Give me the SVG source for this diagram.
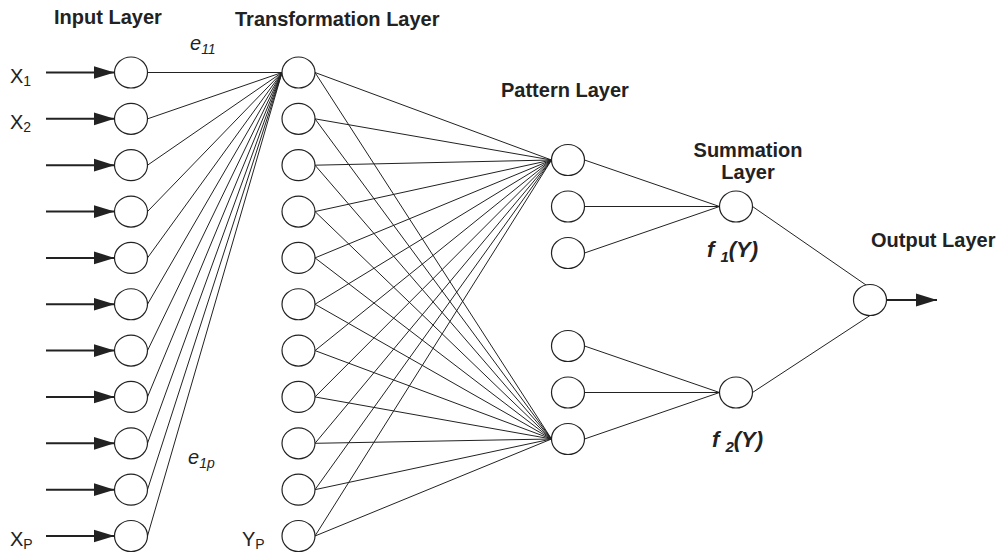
<svg xmlns="http://www.w3.org/2000/svg" width="999" height="555" viewBox="0 0 999 555">
<defs>
<style>
.n{fill:#fff;stroke:#222;stroke-width:1.2}
.c{stroke:#222;stroke-width:1;fill:none}
.a{stroke:#222;stroke-width:2;fill:none}
.h{fill:#222}
.t{font-family:"Liberation Sans",Arial,sans-serif;font-size:20px;font-weight:bold;fill:#222}
.l{font-family:"Liberation Sans",Arial,sans-serif;font-size:20px;fill:#222}
.e{font-family:"Liberation Sans",Arial,sans-serif;font-size:20px;font-style:italic;fill:#222}
.f{font-family:"Liberation Sans",Arial,sans-serif;font-size:22px;font-style:italic;font-weight:bold;fill:#222}
</style>
<marker id="ah" markerWidth="22" markerHeight="14" refX="21" refY="7" orient="auto" markerUnits="userSpaceOnUse">
<path d="M0,0.5 L21,7 L0,13.5 Z" class="h"/>
</marker>
</defs>
<rect width="999" height="555" fill="#fff"/>

<g id="labels">
<text class="t" x="54" y="24">Input Layer</text>
<text class="t" x="235" y="26">Transformation Layer</text>
<text class="t" x="501" y="97">Pattern Layer</text>
<text class="t" x="748" y="157" text-anchor="middle">Summation</text>
<text class="t" x="748" y="179" text-anchor="middle">Layer</text>
<text class="t" x="871" y="247">Output Layer</text>
<text class="e" x="190" y="50">e<tspan font-size="14" dy="4">11</tspan></text>
<text class="e" x="188" y="464">e<tspan font-size="14" dy="4">1p</tspan></text>
<text class="f" x="707" y="257">f <tspan font-size="15" dy="5">1</tspan><tspan dy="-5">(Y)</tspan></text>
<text class="f" x="712" y="447">f <tspan font-size="15" dy="5">2</tspan><tspan dy="-5">(Y)</tspan></text>
<text class="l" x="10" y="83">X<tspan font-size="14" dy="3">1</tspan></text>
<text class="l" x="10" y="129">X<tspan font-size="14" dy="3">2</tspan></text>
<text class="l" x="10" y="546">X<tspan font-size="14" dy="3">P</tspan></text>
<text class="l" x="242" y="546">Y<tspan font-size="14" dy="3">P</tspan></text>
</g>

<g id="connectors">
<line class="a" x1="46" y1="72.5" x2="114.5" y2="72.5" marker-end="url(#ah)"/>
<line class="a" x1="46" y1="118.85" x2="114.5" y2="118.85" marker-end="url(#ah)"/>
<line class="a" x1="46" y1="165.2" x2="114.5" y2="165.2" marker-end="url(#ah)"/>
<line class="a" x1="46" y1="211.55" x2="114.5" y2="211.55" marker-end="url(#ah)"/>
<line class="a" x1="46" y1="257.9" x2="114.5" y2="257.9" marker-end="url(#ah)"/>
<line class="a" x1="46" y1="304.25" x2="114.5" y2="304.25" marker-end="url(#ah)"/>
<line class="a" x1="46" y1="350.6" x2="114.5" y2="350.6" marker-end="url(#ah)"/>
<line class="a" x1="46" y1="396.95" x2="114.5" y2="396.95" marker-end="url(#ah)"/>
<line class="a" x1="46" y1="443.3" x2="114.5" y2="443.3" marker-end="url(#ah)"/>
<line class="a" x1="46" y1="489.65" x2="114.5" y2="489.65" marker-end="url(#ah)"/>
<line class="a" x1="46" y1="536" x2="114.5" y2="536" marker-end="url(#ah)"/>
<path class="c" d="M147.5,72.5 L282,72.5 M147.5,118.85 L282,72.5 M147.5,165.2 L282,72.5 M147.5,211.55 L282,72.5 M147.5,257.9 L282,72.5 M147.5,304.25 L282,72.5 M147.5,350.6 L282,72.5 M147.5,396.95 L282,72.5 M147.5,443.3 L282,72.5 M147.5,489.65 L282,72.5 M147.5,536 L282,72.5"/>
<path class="c" d="M315,72.5 L551.5,160 M315,118.85 L551.5,160 M315,165.2 L551.5,160 M315,211.55 L551.5,160 M315,257.9 L551.5,160 M315,304.25 L551.5,160 M315,350.6 L551.5,160 M315,396.95 L551.5,160 M315,443.3 L551.5,160 M315,489.65 L551.5,160 M315,536 L551.5,160"/>
<path class="c" d="M315,72.5 L551.5,439 M315,118.85 L551.5,439 M315,165.2 L551.5,439 M315,211.55 L551.5,439 M315,257.9 L551.5,439 M315,304.25 L551.5,439 M315,350.6 L551.5,439 M315,396.95 L551.5,439 M315,443.3 L551.5,439 M315,489.65 L551.5,439 M315,536 L551.5,439"/>
<path class="c" d="M584.5,160 L719.5,206.5 M584.5,206.5 L719.5,206.5 M584.5,253 L719.5,206.5 M584.5,346 L719.5,392.5 M584.5,392.5 L719.5,392.5 M584.5,439 L719.5,392.5"/>
<path class="c" d="M752.5,206.5 L866,285 M752.5,392.5 L870,315.5"/>
<line class="a" x1="886.5" y1="300" x2="937" y2="300" marker-end="url(#ah)"/>
</g>

<g id="input-layer">
<ellipse class="n" cx="131" cy="72.5" rx="16.5" ry="15.5"/>
<ellipse class="n" cx="131" cy="118.85" rx="16.5" ry="15.5"/>
<ellipse class="n" cx="131" cy="165.2" rx="16.5" ry="15.5"/>
<ellipse class="n" cx="131" cy="211.55" rx="16.5" ry="15.5"/>
<ellipse class="n" cx="131" cy="257.9" rx="16.5" ry="15.5"/>
<ellipse class="n" cx="131" cy="304.25" rx="16.5" ry="15.5"/>
<ellipse class="n" cx="131" cy="350.6" rx="16.5" ry="15.5"/>
<ellipse class="n" cx="131" cy="396.95" rx="16.5" ry="15.5"/>
<ellipse class="n" cx="131" cy="443.3" rx="16.5" ry="15.5"/>
<ellipse class="n" cx="131" cy="489.65" rx="16.5" ry="15.5"/>
<ellipse class="n" cx="131" cy="536" rx="16.5" ry="15.5"/>
</g>
<g id="transformation-layer">
<ellipse class="n" cx="298.5" cy="72.5" rx="16.5" ry="15.5"/>
<ellipse class="n" cx="298.5" cy="118.85" rx="16.5" ry="15.5"/>
<ellipse class="n" cx="298.5" cy="165.2" rx="16.5" ry="15.5"/>
<ellipse class="n" cx="298.5" cy="211.55" rx="16.5" ry="15.5"/>
<ellipse class="n" cx="298.5" cy="257.9" rx="16.5" ry="15.5"/>
<ellipse class="n" cx="298.5" cy="304.25" rx="16.5" ry="15.5"/>
<ellipse class="n" cx="298.5" cy="350.6" rx="16.5" ry="15.5"/>
<ellipse class="n" cx="298.5" cy="396.95" rx="16.5" ry="15.5"/>
<ellipse class="n" cx="298.5" cy="443.3" rx="16.5" ry="15.5"/>
<ellipse class="n" cx="298.5" cy="489.65" rx="16.5" ry="15.5"/>
<ellipse class="n" cx="298.5" cy="536" rx="16.5" ry="15.5"/>
</g>
<g id="pattern-layer">
<ellipse class="n" cx="568" cy="160" rx="16.5" ry="15.5"/>
<ellipse class="n" cx="568" cy="206.5" rx="16.5" ry="15.5"/>
<ellipse class="n" cx="568" cy="253" rx="16.5" ry="15.5"/>
<ellipse class="n" cx="568" cy="346" rx="16.5" ry="15.5"/>
<ellipse class="n" cx="568" cy="392.5" rx="16.5" ry="15.5"/>
<ellipse class="n" cx="568" cy="439" rx="16.5" ry="15.5"/>
</g>
<g id="summation-layer">
<ellipse class="n" cx="736" cy="206.5" rx="16.5" ry="15.5"/>
<ellipse class="n" cx="736" cy="392.5" rx="16.5" ry="15.5"/>
</g>
<g id="output-layer">
<ellipse class="n" cx="870" cy="300" rx="16.5" ry="15.5"/>
</g>
</svg>
